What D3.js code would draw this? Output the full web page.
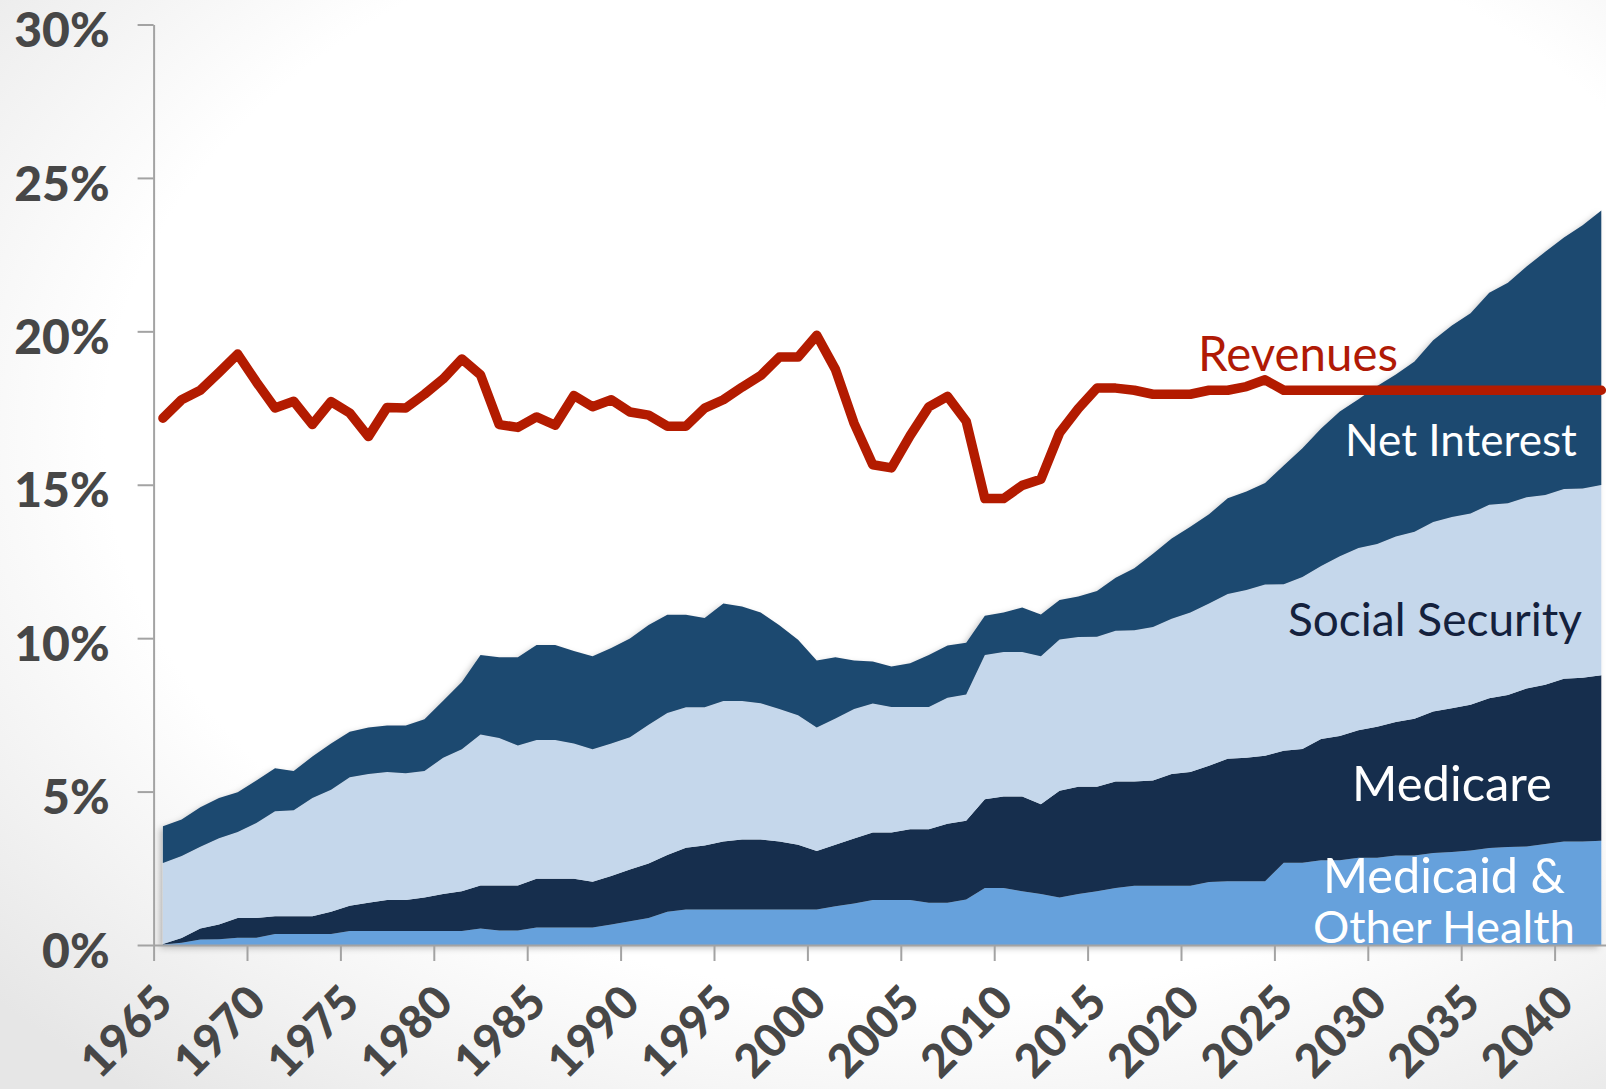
<!DOCTYPE html>
<html><head><meta charset="utf-8">
<script src="https://cdn.jsdelivr.net/npm/d3@7"></script>
<style>
html,body{margin:0;padding:0;background:#fff;}
svg{display:block;}
</style></head>
<body>
<svg id="chart" width="1606" height="1089"></svg>
<script>
// ---------------- DATA (% of GDP) ----------------
const years = [1965,1966,1967,1968,1969,1970,1971,1972,1973,1974,1975,1976,1977,1978,1979,
  1980,1981,1982,1983,1984,1985,1986,1987,1988,1989,1990,1991,1992,1993,1994,1995,1996,1997,1998,1999,
  2000,2001,2002,2003,2004,2005,2006,2007,2008,2009,2010,2011,2012,2013,2014,2015,2016,2017,2018,2019,
  2020,2021,2022,2023,2024,2025,2026,2027,2028,2029,2030,2031,2032,2033,2034,2035,2036,2037,2038,2039,
  2040,2041,2042];

const medicaidOtherHealth = [0.02,0.07,0.18,0.19,0.24,0.24,0.36,0.36,0.36,0.36,0.46,0.46,0.46,0.46,0.46,
  0.46,0.46,0.54,0.47,0.47,0.57,0.57,0.57,0.57,0.67,0.77,0.88,1.08,1.16,1.16,1.16,1.16,1.16,1.16,1.16,
  1.16,1.26,1.35,1.47,1.47,1.47,1.38,1.38,1.48,1.86,1.86,1.75,1.66,1.55,1.66,1.75,1.86,1.93,1.93,1.93,
  1.93,2.05,2.08,2.08,2.08,2.68,2.68,2.76,2.76,2.84,2.84,2.92,2.92,3.00,3.03,3.08,3.16,3.19,3.21,3.29,
  3.37,3.37,3.40];

const medicare = [0.01,0.16,0.36,0.48,0.64,0.64,0.58,0.58,0.58,0.72,0.82,0.92,1.01,1.01,1.09,
  1.20,1.29,1.40,1.47,1.47,1.59,1.59,1.59,1.49,1.58,1.69,1.78,1.85,2.01,2.08,2.21,2.28,2.28,2.21,2.11,
  1.90,2.01,2.12,2.20,2.20,2.30,2.39,2.57,2.57,2.89,2.98,3.09,2.93,3.48,3.50,3.41,3.47,3.40,3.43,3.64,
  3.71,3.79,3.99,4.02,4.09,3.65,3.71,3.95,4.05,4.16,4.27,4.35,4.45,4.61,4.69,4.75,4.88,4.96,5.15,5.19,
  5.31,5.34,5.39];

const socialSecurity = [2.64,2.67,2.66,2.81,2.80,3.10,3.42,3.45,3.85,3.98,4.19,4.19,4.17,4.13,4.12,
  4.44,4.63,4.92,4.81,4.56,4.52,4.52,4.41,4.32,4.32,4.31,4.52,4.63,4.58,4.51,4.58,4.51,4.44,4.32,4.22,
  4.03,4.11,4.22,4.20,4.09,3.99,3.99,4.11,4.11,4.70,4.71,4.71,4.82,4.93,4.88,4.89,4.91,4.93,5.00,5.06,
  5.20,5.29,5.37,5.47,5.58,5.43,5.60,5.64,5.86,5.94,5.96,6.04,6.10,6.18,6.23,6.23,6.31,6.25,6.23,6.19,
  6.18,6.17,6.20];

const netInterest = [1.20,1.19,1.29,1.31,1.30,1.38,1.40,1.28,1.35,1.51,1.48,1.52,1.51,1.55,1.69,
  1.86,2.19,2.59,2.63,2.88,3.10,3.10,3.01,3.03,3.11,3.22,3.25,3.20,3.01,2.91,3.18,3.08,2.96,2.73,2.46,
  2.18,2.00,1.58,1.37,1.32,1.42,1.69,1.70,1.69,1.28,1.29,1.45,1.36,1.28,1.32,1.49,1.73,2.02,2.39,2.62,
  2.79,2.91,3.12,3.21,3.31,3.87,4.20,4.48,4.72,4.85,5.15,5.28,5.55,5.92,6.24,6.53,6.91,7.18,7.52,7.92,
  8.20,8.58,8.95];

const revenues = [17.17,17.77,18.08,18.66,19.26,18.35,17.50,17.72,16.96,17.71,17.34,16.57,17.52,17.50,17.95,
  18.45,19.10,18.58,16.96,16.87,17.21,16.94,17.91,17.54,17.77,17.37,17.27,16.91,16.91,17.50,17.77,18.18,18.56,19.16,19.16,
  19.87,18.76,17.00,15.65,15.55,16.60,17.54,17.88,17.07,14.55,14.55,14.98,15.18,16.69,17.48,18.15,18.15,18.08,17.95,17.95,
  17.95,18.08,18.08,18.20,18.42,18.08,18.08,18.08,18.08,18.08,18.08,18.08,18.08,18.08,18.08,18.08,18.08,18.08,18.08,18.08,
  18.08,18.08,18.08];

const seriesKeys   = ["medicaidOtherHealth","medicare","socialSecurity","netInterest"];
const xTickYears   = [1965,1970,1975,1980,1985,1990,1995,2000,2005,2010,2015,2020,2025,2030,2035,2040];
const yTickValues  = [0,5,10,15,20,25,30];

// ---------------- STYLE / LAYOUT ----------------
const W = 1606, H = 1089;
const colors = {
  medicaidOtherHealth: "#66a1dc",
  medicare: "#152e4d",
  socialSecurity: "#c5d7eb",
  netInterest: "#1f4970"
};
const revColor = "#b31b00";
const axisColor = "#a3a3a3";
const tickTextColor = "#474747";
const labelFont = "Lato, 'Open Sans', sans-serif";

const svg = d3.select("#chart");
const defs = svg.append("defs");

const rg = defs.append("radialGradient").attr("id", "bg")
  .attr("cx", "58%").attr("cy", "40%").attr("r", "78%");
rg.append("stop").attr("offset", "0.66").attr("stop-color", "#ffffff");
rg.append("stop").attr("offset", "1").attr("stop-color", "#e6e6e6");
svg.append("rect").attr("width", W).attr("height", H).attr("fill", "url(#bg)");

const sh = defs.append("filter").attr("id", "shadow")
  .attr("x", "-5%").attr("y", "-5%").attr("width", "110%").attr("height", "110%");
sh.append("feDropShadow").attr("dx", -3).attr("dy", 3).attr("stdDeviation", 3)
  .attr("flood-color", "#000").attr("flood-opacity", 0.25);

const plotLeft = 153.6, band = 18.68;
const x = d3.scaleLinear()
  .domain([years[0] - 0.5, years[years.length - 1] + 0.5])
  .range([plotLeft, plotLeft + band * years.length]);
const y = d3.scaleLinear().domain([0, 30]).range([945, 24.5]);

const table = years.map((yr, i) => ({
  year: yr,
  medicaidOtherHealth: medicaidOtherHealth[i],
  medicare: medicare[i],
  socialSecurity: socialSecurity[i],
  netInterest: netInterest[i]
}));
const stacked = d3.stack().keys(seriesKeys)(table);

const area = d3.area()
  .x(d => x(d.data.year))
  .y0(d => y(d[0]))
  .y1(d => y(d[1]));

const areaG = svg.append("g").attr("filter", "url(#shadow)");
areaG.selectAll("path").data(stacked).join("path")
  .attr("d", area)
  .attr("fill", d => colors[d.key]);

// axes
const yAxis = d3.axisLeft(y).tickValues(yTickValues).tickSize(16).tickSizeOuter(0)
  .tickFormat(d => d + "%");
const yG = svg.append("g").attr("transform", `translate(${plotLeft},0)`).call(yAxis);

const xAxis = d3.axisBottom(x).tickValues(xTickYears.map(v => v - 0.5))
  .tickSize(16).tickSizeOuter(0).tickFormat(d => String(d + 0.5));
const xG = svg.append("g").attr("transform", `translate(0,${y(0)})`).call(xAxis);

[yG, xG].forEach(g => {
  g.select(".domain").attr("stroke", axisColor).attr("stroke-width", 2);
  g.selectAll(".tick line").attr("stroke", axisColor).attr("stroke-width", 2);
  g.selectAll(".tick text")
    .attr("fill", tickTextColor)
    .style("font-family", labelFont)
    .style("font-weight", "900");
});
yG.selectAll(".tick text").style("font-size", "48px").attr("x", -44).attr("dy", "0.46em");
xG.selectAll(".tick text")
  .style("font-size", "46px")
  .attr("x", null).attr("y", null).attr("dy", null)
  .attr("text-anchor", "end")
  .attr("transform", "translate(21,60) rotate(-45)");

// revenue line
const line = d3.line().x((d, i) => x(years[i])).y(d => y(d));
svg.append("path").datum(revenues)
  .attr("d", line)
  .attr("fill", "none")
  .attr("stroke", revColor)
  .attr("stroke-width", 9.5)
  .attr("stroke-linejoin", "round")
  .attr("stroke-linecap", "round");

// in-chart labels
const labels = [
  {text: "Revenues", cx: 1298, base: 371, w: 200, fill: "#b01a05"},
  {text: "Net Interest", cx: 1461, base: 456, w: 232, fill: "#ffffff"},
  {text: "Social Security", cx: 1435, base: 636, w: 294, fill: "#14213d"},
  {text: "Medicare", cx: 1452, base: 801, w: 200, fill: "#ffffff"},
  {text: "Medicaid &", cx: 1444, base: 893, w: 242, fill: "#ffffff"},
  {text: "Other Health", cx: 1444, base: 943, w: 262, fill: "#ffffff"}
];
labels.forEach(l => {
  const t = svg.append("text")
    .attr("x", l.cx).attr("y", l.base)
    .attr("text-anchor", "middle")
    .attr("fill", l.fill)
    .style("font-family", labelFont)
    .style("font-size", "40px")
    .text(l.text);
  const len = t.node().getComputedTextLength();
  t.style("font-size", (40 * l.w / len).toFixed(1) + "px");
});
</script>
</body></html>
